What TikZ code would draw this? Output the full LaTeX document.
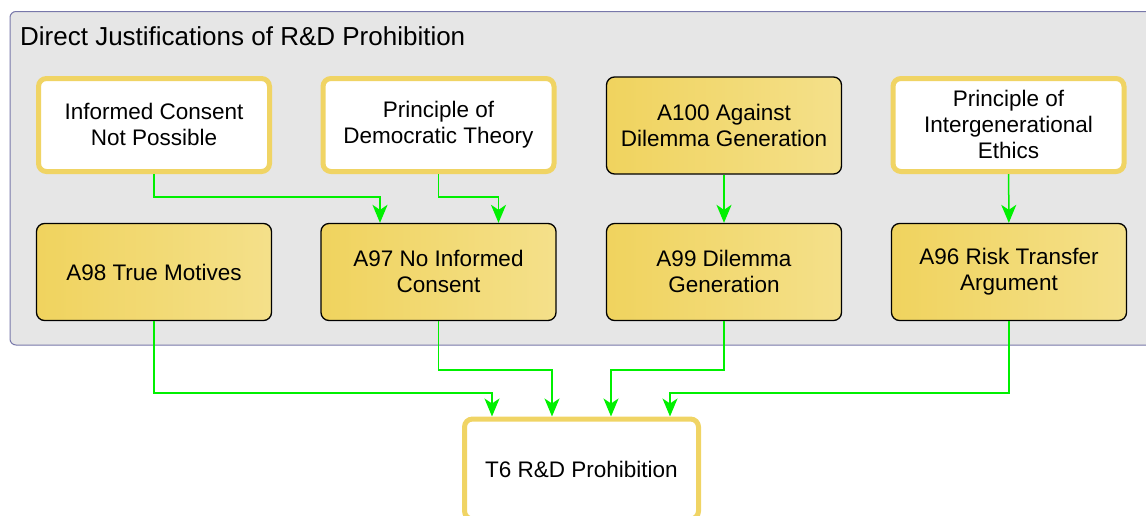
\documentclass[tikz,border=0pt]{standalone}
\usepackage{fontspec}
\setmainfont{Liberation Sans}
\usetikzlibrary{arrows.meta}
\definecolor{gold}{RGB}{240,212,100}
\definecolor{goldL}{RGB}{240,211,94}
\definecolor{goldR}{RGB}{244,224,138}
\definecolor{frame}{RGB}{120,120,170}
\definecolor{panel}{RGB}{230,230,230}
\definecolor{lgreen}{RGB}{0,240,0}
\tikzset{
  boxtext/.style={align=center, inner sep=0pt, font=\fontsize{22.5}{26}\selectfont,
    execute at begin node=\rule{0pt}{17pt}, execute at end node=\rule[-1pt]{0pt}{1pt}},
  whitebox/.style={boxtext, draw=gold, line width=5pt, fill=white, rounded corners=8pt,
    minimum width=231pt, minimum height=93pt},
  goldbox/.style={boxtext, draw=black, line width=1.3pt, left color=goldL, right color=goldR,
    rounded corners=8pt, minimum width=235pt, minimum height=97pt},
  arr/.style={draw=lgreen, line width=1.5pt, -{Stealth[length=18pt,width=15pt,inset=5pt]}}
}
\begin{document}
\begin{tikzpicture}[x=1pt,y=-1pt]
\useasboundingbox (0,0) rectangle (1146,515);
\path[draw=frame, fill=panel, line width=1pt, rounded corners=6pt] (10,11.5) rectangle (1160,345);
\node[anchor=base west, font=\fontsize{26}{30}\selectfont, inner sep=0pt] (title) at (20,45) {Direct Justifications of R\&D Prohibition};
\node[whitebox] (ic) at (154,125) {Informed Consent\\Not Possible};
\node[whitebox] (pd) at (438.5,125) {Principle of\\Democratic Theory};
\node[goldbox] (a100) at (724,125.5) {A100 Against\\Dilemma Generation};
\node[whitebox] (pi) at (1008.5,125) {Principle of\\Intergenerational\\Ethics};
\node[goldbox] (a98) at (154,272) {A98 True Motives};
\node[goldbox] (a97) at (438.5,272) {A97 No Informed\\Consent};
\node[goldbox] (a99) at (724,272) {A99 Dilemma\\Generation};
\node[goldbox] (a96) at (1009,272) {A96 Risk Transfer\\Argument};
\node[whitebox, minimum width=234pt, minimum height=100pt] (t6) at (581.5,469) {T6 R\&D Prohibition};
\draw[arr] (ic.south) -- ++(0,23) -| ([xshift=-58.5pt]a97.north);
\draw[arr] (pd.south) -- ++(0,23) -| ([xshift=60pt]a97.north);
\draw[arr] (a100) -- (a99);
\draw[arr] (pi) -- (a96);
\draw[arr] (a98.south) -- ++(0,72) -| ([xshift=-89.5pt]t6.north);
\draw[arr] (a97.south) -- ++(0,49) -| ([xshift=-29.5pt]t6.north);
\draw[arr] (a99.south) -- ++(0,49) -| ([xshift=29.5pt]t6.north);
\draw[arr] (a96.south) -- ++(0,72) -| ([xshift=88.5pt]t6.north);
\end{tikzpicture}
\end{document}
